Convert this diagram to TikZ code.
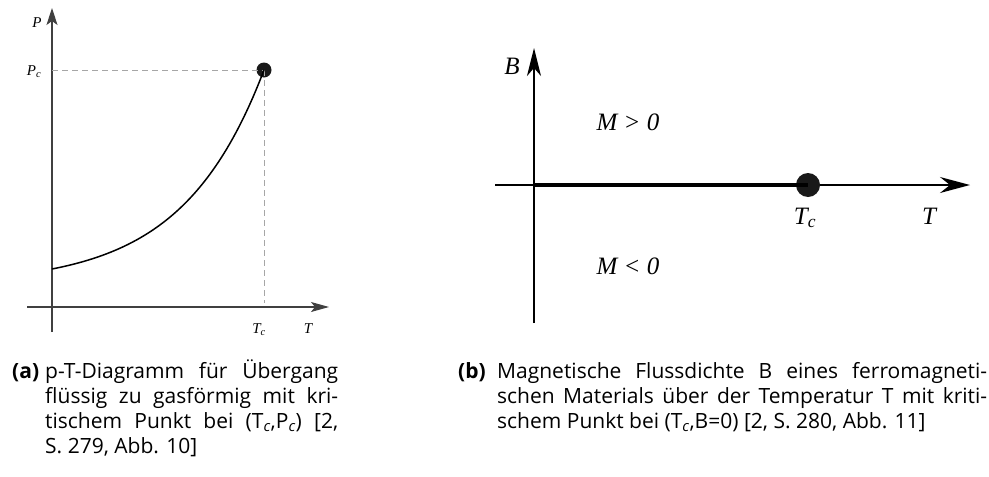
\documentclass[tikz,border=0pt]{standalone}
\usepackage{fontspec}
\setmainfont{Open Sans}
\newfontfamily\labfont{Liberation Serif}
\usetikzlibrary{arrows.meta}
\tikzset{
  axis/.style={line width=1.1pt, draw=black!75},
  axisb/.style={line width=1.4pt, draw=black},
  guide/.style={line width=1pt, draw=black!35, dash pattern=on 6pt off 4pt},
  dotnode/.style={circle, fill=black!90, inner sep=0pt},
  lbl/.style={font=\labfont\itshape\fontsize{15}{15}\selectfont, inner sep=0pt, anchor=base},
  lblb/.style={font=\labfont\itshape\fontsize{25}{25}\selectfont, inner sep=0pt, anchor=base},
  captext/.style={font=\fontsize{21}{25}\selectfont, inner sep=0pt, anchor=base west, align=left},
  capbold/.style={font=\bfseries\fontsize{21}{25}\selectfont, inner sep=0pt, anchor=base west},
}
\newcommand{\jline}[2]{\makebox[#1][s]{#2}}
\begin{document}
\begin{tikzpicture}[x=1pt,y=-1pt]
\useasboundingbox (0,0) rectangle (989,477);
% ---------- (a) ----------
\coordinate (ay0) at (52,332);
\coordinate (ay1) at (52,8);
\coordinate (ax0) at (27,307);
\coordinate (ax1) at (329,307);
\coordinate (pcl) at (52,70);
\coordinate (tcb) at (264,303);
\draw[axis,-{Stealth[length=17pt,width=11pt,inset=4pt]}] (ay0) -- (ay1);
\draw[axis,-{Stealth[length=18pt,width=10pt,inset=4pt]}] (ax0) -- (ax1);
\node[dotnode, minimum size=15pt] (crit) at (264,70) {};
\draw[guide] (pcl) -- (crit.center);
\draw[guide] (crit.center) -- (tcb);
\draw[line width=1.5pt] plot[domain=52:264, samples=80] (\x, {269 - 15.97*(exp(2.6*(\x-52)/212)-1)});
\node[lbl] (lP) at (37,27) {P};
\node[lbl] (lPc) at (34,75) {P\textsubscript{c}};
\node[lbl] (lTc) at (259,333) {T\textsubscript{c}};
\node[lbl] (lT) at (308,333) {T};
% ---------- (b) ----------
\coordinate (by0) at (534,323);
\coordinate (by1) at (534,48);
\coordinate (bx0) at (495,185);
\coordinate (bx1) at (970,185);
\coordinate (bo) at (534,185);
\draw[axisb,-{Stealth[length=28pt,width=14pt,inset=8pt]}] (by0) -- (by1);
\draw[axisb,-{Stealth[length=30pt,width=16pt,inset=10pt]}] (bx0) -- (bx1);
\node[dotnode, minimum size=24pt] (crit2) at (808,185) {};
\draw[line width=3.2pt] (bo) -- (crit2.center);
\node[lblb] (lB) at (512,74) {B};
\node[lblb] (lMp) at (628,130) {M > 0};
\node[lblb] (lMm) at (628,274) {M < 0};
\node[lblb] (lTc2) at (805,224) {T\textsubscript{c}};
\node[lblb] (lT2) at (929,224) {T};
% ---------- captions ----------
\node[capbold] (ca) at (12,378) {(a)};
\node[captext] (ca1) at (45,378) {\jline{293pt}{p-T-Diagramm für Übergang}};
\node[captext] (ca2) at (45,403) {\jline{293pt}{flüssig zu gasförmig mit kri-}};
\node[captext] (ca3) at (45,428) {\jline{293pt}{tischem Punkt bei (T\textsubscript{\itshape c},P\textsubscript{\itshape c}) [2,}};
\node[captext] (ca4) at (45,453) {S. 279, Abb. 10]};
\node[capbold] (cb) at (458,378) {(b)};
\node[captext] (cb1) at (497,378) {\jline{490pt}{Magnetische Flussdichte B eines ferromagneti-}};
\node[captext] (cb2) at (497,403) {\jline{490pt}{schen Materials über der Temperatur T mit kriti-}};
\node[captext] (cb3) at (497,428) {schem Punkt bei (T\textsubscript{\itshape c},B=0) [2, S. 280, Abb. 11]};
\end{tikzpicture}
\end{document}
